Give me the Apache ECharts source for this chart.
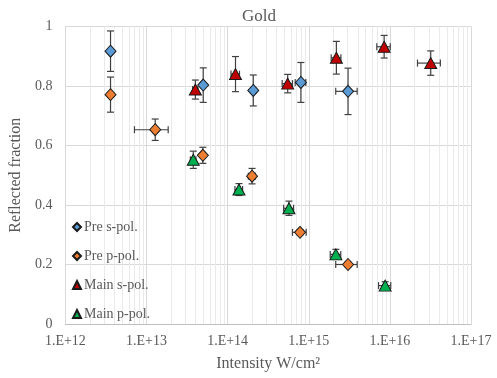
<!DOCTYPE html>
<html>
<head>
<meta charset="utf-8">
<script src="https://cdn.jsdelivr.net/npm/echarts@6/dist/echarts.min.js"></script>
<style>html,body{margin:0;padding:0;background:#fff}#c{width:497px;height:378px}</style>
</head>
<body>
<div id="c"></div>
<script>
// ---- data ----
const seriesNames = ['Pre s-pol.', 'Pre p-pol.', 'Main s-pol.', 'Main p-pol.'];

const preSX    = [3.6e12, 5.0e13, 2.07e14, 8.0e14, 3.05e15];
const preSY    = [0.917, 0.803, 0.785, 0.812, 0.782];
const preSXErr = [0, 0.3e13, 0.15e14, 1.2e14, 0.9e15];
const preSYErr = [0.068, 0.058, 0.052, 0.067, 0.078];

const prePX    = [3.6e12, 1.28e13, 4.95e13, 2.0e14, 7.8e14, 3.05e15];
const prePY    = [0.771, 0.653, 0.567, 0.497, 0.308, 0.200];
const prePXErr = [0, 5.7e12, 0.3e13, 0.2e14, 1.5e14, 0.9e15];
const prePYErr = [0.059, 0.036, 0.027, 0.026, 0.008, 0.008];

const mainSX    = [4.0e13, 1.25e14, 5.5e14, 2.19e15, 8.5e15, 3.19e16];
const mainSY    = [0.788, 0.840, 0.808, 0.895, 0.932, 0.877];
const mainSXErr = [0.3e13, 0.15e14, 0.8e14, 0.3e15, 1.6e15, 1.0e16];
const mainSYErr = [0.032, 0.059, 0.031, 0.055, 0.038, 0.041];

const mainPX    = [3.77e13, 1.38e14, 5.7e14, 2.16e15, 8.75e15];
const mainPY    = [0.552, 0.452, 0.389, 0.234, 0.129];
const mainPXErr = [0.3e13, 0.15e14, 0.8e14, 0.32e15, 1.5e15];
const mainPYErr = [0.029, 0.020, 0.024, 0.017, 0.013];

const xTickLabels = ['1.E+12', '1.E+13', '1.E+14', '1.E+15', '1.E+16', '1.E+17'];

// ---- build ----
const colors = ['#5B9BD5', '#ED7D31', '#C00000', '#00B050'];
const symbols = ['diamond', 'diamond', 'triangle', 'triangle'];
const symSizes = [[11, 12], [11, 12], [12, 11], [12, 11]];
const sets = [
  [preSX, preSY, preSXErr, preSYErr],
  [prePX, prePY, prePXErr, prePYErr],
  [mainSX, mainSY, mainSXErr, mainSYErr],
  [mainPX, mainPY, mainPXErr, mainPYErr]
];

const minorTicks = [];
for (let e = 12; e < 17; e++) {
  for (let m = 2; m <= 9; m++) minorTicks.push([m * Math.pow(10, e), 0]);
}

const font = 'Liberation Serif';
const textColor = '#595959';
const errColor = '#404040';
const cap = 3.5;

function errRender(params, api) {
  const x = api.value(0), y = api.value(1), xe = api.value(2), ye = api.value(3);
  const children = [];
  const st = { stroke: errColor, lineWidth: 1.2 };
  if (ye > 0) {
    const t = api.coord([x, y + ye]), b = api.coord([x, y - ye]);
    children.push({ type: 'line', shape: { x1: t[0], y1: t[1], x2: b[0], y2: b[1] }, style: st });
    children.push({ type: 'line', shape: { x1: t[0] - cap, y1: t[1], x2: t[0] + cap, y2: t[1] }, style: st });
    children.push({ type: 'line', shape: { x1: b[0] - cap, y1: b[1], x2: b[0] + cap, y2: b[1] }, style: st });
  }
  if (xe > 0) {
    const l = api.coord([x - xe, y]), r = api.coord([x + xe, y]);
    children.push({ type: 'line', shape: { x1: l[0], y1: l[1], x2: r[0], y2: r[1] }, style: st });
    children.push({ type: 'line', shape: { x1: l[0], y1: l[1] - cap, x2: l[0], y2: l[1] + cap }, style: st });
    children.push({ type: 'line', shape: { x1: r[0], y1: r[1] - cap, x2: r[0], y2: r[1] + cap }, style: st });
  }
  return { type: 'group', children: children };
}

const series = [{
  type: 'custom',
  silent: true,
  z: 1,
  data: minorTicks,
  renderItem: function (params, api) {
    const a = api.coord([api.value(0), 0]), b = api.coord([api.value(0), 1]);
    return { type: 'line', shape: { x1: Math.round(a[0]) + 0.5, y1: a[1], x2: Math.round(a[0]) + 0.5, y2: b[1] },
             style: { stroke: '#eaeaea', lineWidth: 1 } };
  }
}];

sets.forEach(function (s, i) {
  const errData = s[0].map(function (x, k) { return [x, s[1][k], s[2][k], s[3][k]]; });
  series.push({ type: 'custom', silent: true, z: 2, data: errData, renderItem: errRender });
});
sets.forEach(function (s, i) {
  series.push({
    name: seriesNames[i],
    type: 'scatter',
    z: 3,
    symbol: symbols[i],
    symbolSize: symSizes[i],
    itemStyle: { color: colors[i], borderColor: '#1a1a1a', borderWidth: 1, opacity: 1 },
    data: s[0].map(function (x, k) { return [x, s[1][k]]; })
  });
});

const chart = echarts.init(document.getElementById('c'), null, { renderer: 'canvas' });
chart.setOption({
  animation: false,
  backgroundColor: '#fff',
  title: {
    text: 'Gold', left: 237, top: 3,
    textStyle: { fontFamily: font, fontSize: 17, fontWeight: 'normal', color: textColor }
  },
  legend: {
    orient: 'vertical', left: 67, top: 215, itemGap: 15,
    itemWidth: 8, itemHeight: 8,
    textStyle: { fontFamily: font, fontSize: 14, color: textColor, padding: [0, 0, 0, -2] },
    data: seriesNames.map(function (n, i) { return { name: n, icon: symbols[i] }; })
  },
  grid: { left: 59, right: 26, top: 26.5, bottom: 54, containLabel: false },
  xAxis: {
    type: 'log', logBase: 10, min: 1e12, max: 1e17,
    name: 'Intensity W/cm²', nameLocation: 'middle', nameGap: 32,
    nameTextStyle: { fontFamily: font, fontSize: 16, color: textColor },
    axisLine: { show: true, lineStyle: { color: '#bfbfbf', width: 1 } },
    axisTick: { show: false },
    axisLabel: {
      fontFamily: font, fontSize: 14, color: textColor, margin: 10,
      formatter: function (v) { const e = Math.round(Math.log10(v)) - 12; return xTickLabels[e] || ''; }
    },
    splitLine: { show: true, lineStyle: { color: '#d9d9d9', width: 1 } }
  },
  yAxis: {
    type: 'value', min: 0, max: 1, interval: 0.2,
    name: 'Reflected fraction', nameLocation: 'middle', nameGap: 27,
    nameTextStyle: { fontFamily: font, fontSize: 16, color: textColor },
    axisLine: { show: true, lineStyle: { color: '#d9d9d9', width: 1 } },
    axisTick: { show: false },
    axisLabel: {
      fontFamily: font, fontSize: 14, color: textColor, margin: 13,
      formatter: function (v) { return String(Math.round(v * 10) / 10); }
    },
    splitLine: { show: true, lineStyle: { color: '#d9d9d9', width: 1 } }
  },
  series: series
});
</script>
</body>
</html>
